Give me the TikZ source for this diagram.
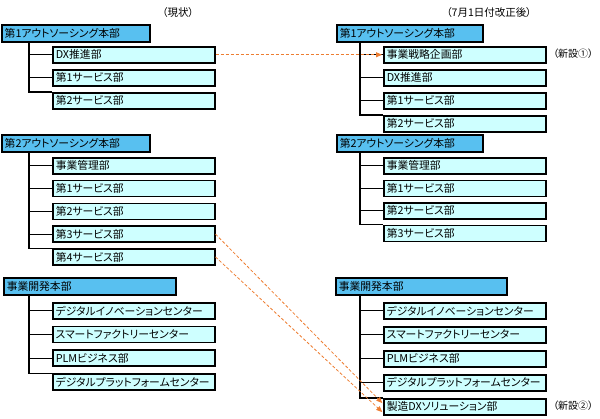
\documentclass[tikz,border=0pt]{standalone}
\usepackage{fontspec}
\setmainfont{Noto Sans CJK JP}[RawFeature=+palt]
\usetikzlibrary{arrows.meta}
\definecolor{hqblue}{RGB}{88,192,240}
\definecolor{deptcyan}{RGB}{206,255,255}
\definecolor{moveorange}{RGB}{237,125,49}
\tikzset{
  unit/.style={draw,line width=1.5pt,anchor=north west,inner xsep=3pt,inner ysep=1pt,align=left,font=\fontsize{10.8}{11}\selectfont},
  hq/.style={unit,fill=hqblue,minimum height=17pt},
  dept/.style={unit,fill=deptcyan,minimum height=16pt,text width=156pt},
  branch/.style={line width=1.2pt},
  move/.style={moveorange,densely dashed,line width=0.8pt,-{Triangle[length=6pt,width=5pt]},shorten >=1pt},
  caption/.style={inner sep=0pt,font=\fontsize{10.5}{11}\selectfont}
}
\begin{document}
\begin{tikzpicture}[x=1pt,y=-1pt]
\useasboundingbox (0,0) rectangle (600,418);
\node[caption] (nowlabel) at (178,13) {（現状）};
\node[caption] (newlabel) at (489,13) {（7月1日付改正後）};

\node[hq,text width=142pt] (l1) at (1,24) {第1アウトソーシング本部};
\foreach \t [count=\i] in {DX推進部,第1サービス部,第2サービス部}
  \node[dept] (l1c\i) at (52,{46+23*(\i-1)}) {\t};
\node[hq,text width=142pt] (l2) at (1,134) {第2アウトソーシング本部};
\foreach \t [count=\i] in {事業管理部,第1サービス部,第2サービス部,第3サービス部,第4サービス部}
  \node[dept] (l2c\i) at (52,{157+22.8*(\i-1)}) {\t};
\node[hq,text width=166pt] (l3) at (3,277) {事業開発本部};
\foreach \t [count=\i] in {デジタルイノベーションセンター,スマートファクトリーセンター,PLMビジネス部,デジタルプラットフォームセンター}
  \node[dept] (l3c\i) at (52,{302+23.7*(\i-1)}) {\t};

\node[hq,text width=140pt] (r1) at (336,24) {第1アウトソーシング本部};
\foreach \t [count=\i] in {事業戦略企画部,DX推進部,第1サービス部,第2サービス部}
  \node[dept] (r1c\i) at (383,{46+23*(\i-1)}) {\t};
\node[hq,text width=140pt] (r2) at (336,134) {第2アウトソーシング本部};
\foreach \t [count=\i] in {事業管理部,第1サービス部,第2サービス部,第3サービス部}
  \node[dept] (r2c\i) at (383,{157+22.5*(\i-1)}) {\t};
\node[hq,text width=165pt] (r3) at (335,277) {事業開発本部};
\foreach \t [count=\i] in {デジタルイノベーションセンター,スマートファクトリーセンター,PLMビジネス部,デジタルプラットフォームセンター,製造DXソリューション部}
  \node[dept] (r3c\i) at (383,{302+24*(\i-1)}) {\t};

\node[caption,anchor=west,font=\fontsize{10}{11}\selectfont] (newone) at (553,54) {（新設①）};
\node[caption,anchor=west,font=\fontsize{10}{11}\selectfont] (newtwo) at (553,406) {（新設②）};

\draw[branch] ([xshift=28pt]l1.south west) |- (l1c3.north west);
\foreach \i in {1,2} \draw[branch] ([xshift=28pt]l1.south west) |- (l1c\i.west);
\draw[branch] ([xshift=28pt]l2.south west) |- (l2c5.north west);
\foreach \i in {1,...,4} \draw[branch] ([xshift=28pt]l2.south west) |- (l2c\i.west);
\draw[branch] ([xshift=26pt]l3.south west) |- (l3c4.north west);
\foreach \i in {1,2,3} \draw[branch] ([xshift=26pt]l3.south west) |- (l3c\i.west);
\draw[branch] ([xshift=24pt]r1.south west) |- (r1c4.north west);
\foreach \i in {1,2,3} \draw[branch] ([xshift=24pt]r1.south west) |- (r1c\i.west);
\draw[branch] ([xshift=24pt]r2.south west) |- (r2c4.north west);
\foreach \i in {1,2,3} \draw[branch] ([xshift=24pt]r2.south west) |- (r2c\i.west);
\draw[branch] ([xshift=25pt]r3.south west) |- (r3c5.north west);
\foreach \i in {1,...,4} \draw[branch] ([xshift=25pt]r3.south west) |- (r3c\i.west);

\draw[move] (l1c1.east) -- (r1c1.west);
\draw[move] (l2c4.east) -- ([yshift=3pt]r3c5.west);
\draw[move] (l2c5.east) -- ([yshift=-6pt]r3c5.west);
\end{tikzpicture}
\end{document}
